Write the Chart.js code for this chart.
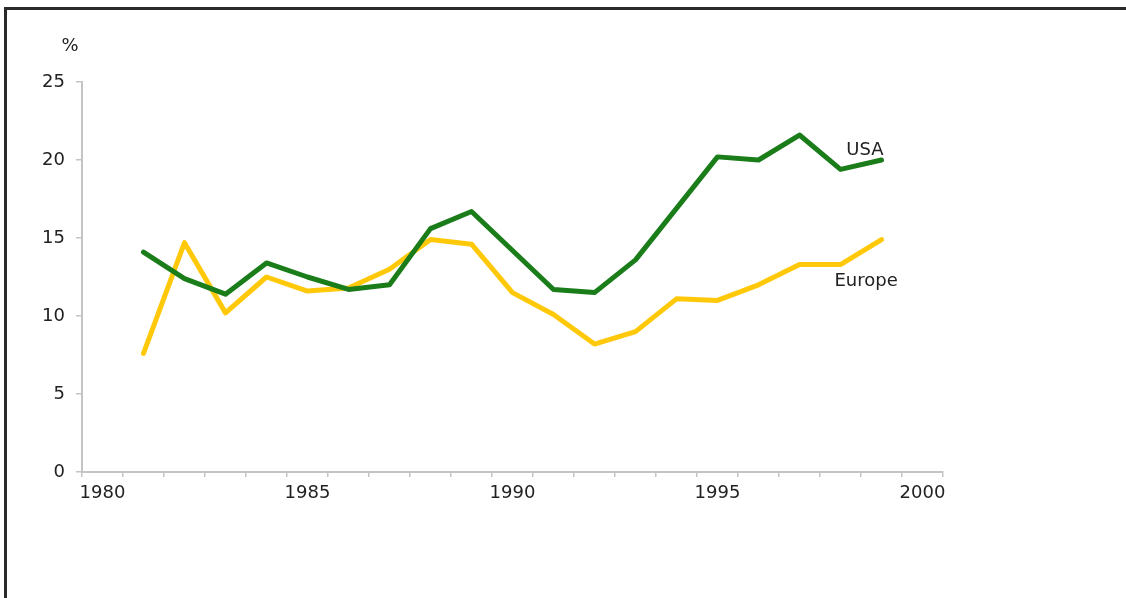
<!DOCTYPE html>
<html>
<head>
<meta charset="utf-8">
<script src="https://cdn.jsdelivr.net/npm/chart.js@4/dist/chart.umd.min.js"></script>
<style>
  html, body { margin: 0; padding: 0; background: #fff; overflow: hidden; }
  #frame {
    position: absolute; left: 4px; top: 7px; width: 1200px; height: 700px;
    border-left: 3px solid #2a2a2a; border-top: 3px solid #2a2a2a;
  }
  #chart { position: absolute; left: 0; top: 0; }
</style>
</head>
<body>
<div id="frame"></div>
<canvas id="chart" width="1126" height="598"></canvas>
<script>
// categories on the x axis, one per year
const years = [1980, 1981, 1982, 1983, 1984, 1985, 1986, 1987, 1988, 1989, 1990,
               1991, 1992, 1993, 1994, 1995, 1996, 1997, 1998, 1999, 2000];

// values in %, no data for 1980 and 2000
const usa = [null, 14.1, 12.4, 11.4, 13.4, 12.5, 11.7, 12.0, 15.6, 16.7, 14.2,
             11.7, 11.5, 13.6, 16.9, 20.2, 20.0, 21.6, 19.4, 20.0, null];
const europe = [null, 7.6, 14.7, 10.2, 12.5, 11.6, 11.8, 13.0, 14.9, 14.6, 11.5,
                10.1, 8.2, 9.0, 11.1, 11.0, 12.0, 13.3, 13.3, 14.9, null];

const yTicks = [0, 5, 10, 15, 20, 25];

const FONT = { family: '"DejaVu Sans", sans-serif', size: 18 };
const TEXT = '#222';
const AXIS = '#c4c4c4';

// "%" above the y axis and the series names next to the lines
const annotations = {
  id: 'annotations',
  afterDatasetsDraw(chart) {
    const ctx = chart.ctx;
    const area = chart.chartArea;
    const usaPts = chart.getDatasetMeta(0).data;
    const euPts = chart.getDatasetMeta(1).data;
    ctx.save();
    ctx.fillStyle = TEXT;
    ctx.font = FONT.size + 'px ' + FONT.family;
    ctx.textBaseline = 'alphabetic';

    ctx.textAlign = 'center';
    ctx.fillText('%', area.left - 12, area.top - 31);

    const pU = usaPts[19];
    ctx.textAlign = 'right';
    ctx.fillText('USA', pU.x + 2, pU.y - 5);

    const pE = euPts[18];
    ctx.textAlign = 'left';
    ctx.fillText('Europe', pE.x - 6, pE.y + 21);
    ctx.restore();
  }
};

new Chart(document.getElementById('chart'), {
  type: 'line',
  data: {
    labels: years,
    datasets: [
      {
        label: 'USA',
        data: usa,
        borderColor: '#1a7d1a',
        borderWidth: 5,
        borderJoinStyle: 'round',
        borderCapStyle: 'round',
        pointRadius: 0,
        tension: 0,
        spanGaps: false
      },
      {
        label: 'Europe',
        data: europe,
        borderColor: '#ffc90a',
        borderWidth: 5,
        borderJoinStyle: 'round',
        borderCapStyle: 'round',
        pointRadius: 0,
        tension: 0,
        spanGaps: false
      }
    ]
  },
  options: {
    responsive: false,
    devicePixelRatio: 1,
    animation: false,
    events: [],
    layout: { padding: { left: 0, top: 82, right: 183, bottom: 0 } },
    plugins: {
      legend: { display: false },
      tooltip: { enabled: false }
    },
    scales: {
      x: {
        type: 'category',
        offset: true,
        grid: {
          offset: true,
          drawOnChartArea: false,
          drawTicks: true,
          tickLength: 5,
          color: AXIS,
          lineWidth: 1.5
        },
        border: { display: true, color: AXIS, width: 2 },
        ticks: {
          autoSkip: false,
          maxRotation: 0,
          padding: 6,
          color: TEXT,
          font: FONT,
          callback: function (value, index) {
            return index % 5 === 0 ? this.getLabelForValue(value) : '';
          }
        },
        afterFit(scale) { scale.height = 126; }
      },
      y: {
        min: 0,
        max: 25,
        afterBuildTicks(scale) { scale.ticks = yTicks.map(v => ({ value: v })); },
        grid: {
          drawOnChartArea: false,
          drawTicks: true,
          tickLength: 6,
          color: AXIS,
          lineWidth: 1.5
        },
        border: { display: true, color: AXIS, width: 2 },
        ticks: {
          padding: 11,
          color: TEXT,
          font: FONT
        },
        afterFit(scale) { scale.width = 82; }
      }
    }
  },
  plugins: [annotations]
});
</script>
</body>
</html>
